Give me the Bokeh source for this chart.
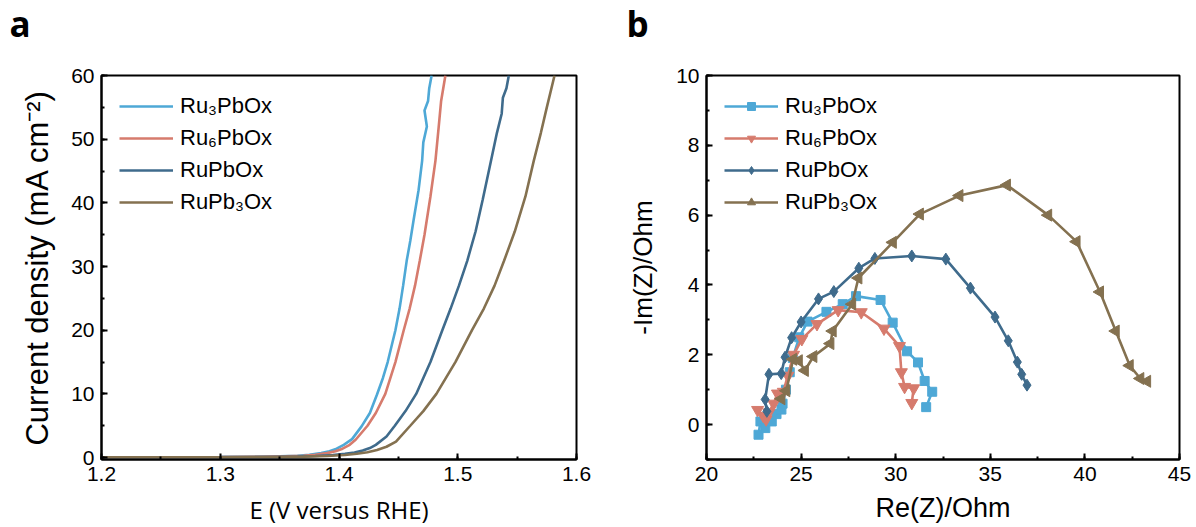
import numpy as np
from bokeh.plotting import figure
from bokeh.layouts import row, column
from bokeh.models import Range1d, SingleIntervalTicker, Legend, LegendItem, Label
from bokeh.embed import file_html
from bokeh.resources import INLINE

# ---------------- data ----------------
names = ["Ru₃PbOx", "Ru₆PbOx", "RuPbOx", "RuPb₃Ox"]
colors = ["#4ea8d6", "#d67b6d", "#3f6b8c", "#847150"]
panel_tags = ["a", "b"]

# LSV curves (E in V vs RHE, J in mA cm-2)
E_ru3 = [1.200, 1.250, 1.300, 1.330, 1.350, 1.365, 1.375, 1.385, 1.392, 1.398, 1.404, 1.411,
         1.419, 1.426, 1.432, 1.437, 1.441, 1.4475, 1.451, 1.454, 1.457, 1.460, 1.463, 1.467,
         1.470, 1.471, 1.474, 1.472, 1.475, 1.476, 1.478]
J_ru3 = [0.05, 0.06, 0.08, 0.12, 0.2, 0.3, 0.45, 0.7, 1.0, 1.4, 2.0, 2.9,
         4.9, 7.0, 9.9, 12.5, 15.0, 20.0, 23.4, 27.0, 30.9, 34.0, 37.5, 42.0,
         46.6, 49.5, 52.0, 54.5, 56.0, 58.0, 60.0]

E_ru6 = [1.200, 1.250, 1.300, 1.335, 1.355, 1.370, 1.380, 1.390, 1.397, 1.403, 1.409, 1.414,
         1.424, 1.431, 1.439, 1.4475, 1.4545, 1.4595, 1.464, 1.468, 1.472, 1.477, 1.4812,
         1.484, 1.486, 1.4896]
J_ru6 = [0.05, 0.06, 0.08, 0.12, 0.2, 0.3, 0.45, 0.7, 1.0, 1.4, 2.0, 2.8,
         5.0, 7.0, 10.0, 15.0, 20.0, 23.4, 27.0, 30.9, 35.0, 41.0, 46.6,
         52.0, 56.0, 60.0]

E_ru1 = [1.200, 1.250, 1.300, 1.340, 1.365, 1.380, 1.395, 1.405, 1.413, 1.420, 1.426, 1.431,
         1.440, 1.447, 1.456, 1.465, 1.477, 1.487, 1.494, 1.501, 1.508, 1.515, 1.521,
         1.528, 1.533, 1.537, 1.538, 1.541, 1.543]
J_ru1 = [0.05, 0.05, 0.07, 0.1, 0.15, 0.25, 0.4, 0.6, 0.8, 1.1, 1.5, 2.0,
         3.3, 5.0, 7.3, 10.0, 15.0, 20.0, 23.4, 27.0, 30.9, 35.5, 40.5,
         46.6, 51.0, 54.0, 56.5, 58.0, 60.0]

E_pb3 = [1.200, 1.250, 1.300, 1.345, 1.370, 1.390, 1.405, 1.415, 1.424, 1.432, 1.440, 1.448,
         1.460, 1.471, 1.482, 1.498, 1.512, 1.517, 1.522, 1.531, 1.539, 1.548, 1.557,
         1.564, 1.570, 1.575, 1.5815]
J_pb3 = [0.05, 0.05, 0.06, 0.1, 0.15, 0.25, 0.4, 0.6, 0.85, 1.2, 1.7, 2.5,
         5.0, 7.3, 10.0, 15.0, 20.0, 21.7, 23.4, 27.0, 30.9, 35.5, 41.0,
         46.6, 51.0, 55.0, 60.0]

# Nyquist data (Re(Z), -Im(Z) in Ohm)
Zr_ru3 = [22.75, 22.85, 23.11, 23.45, 23.70, 23.96, 24.02, 24.20, 24.40, 24.56, 24.90,
          25.34, 26.34, 27.20, 27.90, 29.20, 29.84, 30.60, 31.18, 31.53, 31.93, 31.61]
Zi_ru3 = [-0.29, 0.09, -0.10, 0.09, 0.30, 0.43, 0.60, 1.00, 1.50, 1.91, 2.50,
          2.95, 3.23, 3.45, 3.68, 3.57, 2.92, 2.10, 1.78, 1.25, 0.94, 0.50]

Zr_ru6 = [22.70, 23.00, 23.15, 23.30, 23.55, 23.75, 24.06, 24.30, 24.60, 25.04, 25.84,
          26.96, 28.18, 29.38, 30.20, 30.30, 30.47, 30.95, 30.85]
Zi_ru6 = [0.42, 0.25, 0.15, 0.35, 0.60, 0.89, 0.94, 1.40, 2.00, 2.45, 2.88,
          3.28, 3.22, 2.75, 2.25, 1.50, 1.08, 1.04, 0.62]

Zr_ru1 = [23.19, 23.10, 23.30, 23.95, 24.15, 24.50, 25.00, 25.92, 26.73, 28.05, 28.90,
          30.85, 32.65, 33.95, 35.25, 35.95, 36.43, 36.66, 36.94]
Zi_ru1 = [0.38, 0.72, 1.44, 1.46, 1.93, 2.49, 2.94, 3.60, 3.81, 4.48, 4.76,
          4.83, 4.74, 3.91, 3.08, 2.40, 1.79, 1.44, 1.13]

Zr_pb3 = [23.96, 24.22, 24.58, 24.88, 25.20, 25.65, 26.55, 26.67, 27.70, 28.03, 29.85,
          31.28, 33.37, 35.88, 38.06, 39.56, 40.80, 41.63, 42.37, 42.93, 43.29]
Zi_pb3 = [0.74, 0.97, 1.87, 1.83, 1.55, 1.95, 2.32, 2.68, 3.45, 4.20, 5.22,
          6.03, 6.56, 6.86, 6.00, 5.24, 3.80, 2.68, 1.69, 1.32, 1.24]

lsv_E = [E_ru3, E_ru6, E_ru1, E_pb3]
lsv_J = [J_ru3, J_ru6, J_ru1, J_pb3]
eis_re = [Zr_ru3, Zr_ru6, Zr_ru1, Zr_pb3]
eis_im = [Zi_ru3, Zi_ru6, Zi_ru1, Zi_pb3]
markers = ["square", "inverted_triangle", "diamond", "triangle"]
marker_angles = [0.0, 0.0, 0.0, np.pi / 2]
marker_sizes = [9, 12, 12, 12]

TICK_FONT = "Liberation Sans"
STRIP_H = 60


def style(p, xint, yint):
    p.xaxis.ticker = SingleIntervalTicker(interval=xint, num_minor_ticks=2)
    p.yaxis.ticker = SingleIntervalTicker(interval=yint, num_minor_ticks=2)
    for ax in (p.xaxis[0], p.yaxis[0]):
        ax.axis_line_width = 2
        ax.axis_line_color = "black"
        ax.major_tick_in = 6
        ax.major_tick_out = 0
        ax.minor_tick_in = 3
        ax.minor_tick_out = 0
        ax.major_tick_line_width = 2
        ax.minor_tick_line_width = 2
        ax.major_tick_line_color = "black"
        ax.minor_tick_line_color = "black"
        ax.major_label_text_font = TICK_FONT
        ax.major_label_text_font_size = "21px"
        ax.major_label_text_color = "black"
        ax.axis_label_text_font_style = "normal"
        ax.axis_label_text_color = "black"
    p.xaxis.major_label_standoff = 7
    p.yaxis.major_label_standoff = 7
    p.xgrid.visible = False
    p.ygrid.visible = False
    p.outline_line_color = "black"
    p.outline_line_width = 2
    p.outline_line_alpha = 1.0
    p.background_fill_color = "white"
    p.border_fill_color = "white"


def make_legend(p, items):
    leg = Legend(items=items, location="top_left")
    leg.border_line_alpha = 0
    leg.background_fill_alpha = 0
    leg.label_text_font = TICK_FONT
    leg.label_text_font_size = "22px"
    leg.label_text_color = "black"
    leg.glyph_width = 54
    leg.glyph_height = 20
    leg.label_standoff = 7
    leg.spacing = 6
    leg.padding = 0
    leg.margin = 18
    p.add_layout(leg)


# ---------------- strip with panel tags ----------------
strip = figure(width=1196, height=STRIP_H, title=None,
               x_range=Range1d(0, 1196), y_range=Range1d(0, STRIP_H),
               x_axis_type=None, y_axis_type=None, min_border=0, output_backend="svg",
               toolbar_location=None)
strip.xgrid.visible = False
strip.ygrid.visible = False
strip.outline_line_color = None
for tx, t in zip([9, 626], panel_tags):
    strip.add_layout(Label(x=tx, y=STRIP_H - 23, text=t, text_font="Open Sans",
                           text_font_style="bold", text_font_size="35px",
                           text_color="black", text_baseline="middle"))

# ---------------- panel a ----------------
p1 = figure(frame_width=475, frame_height=384, min_border_left=101, min_border_right=34,
            min_border_top=75 - STRIP_H, min_border_bottom=68, output_backend="svg",
            toolbar_location=None, title=None,
            x_range=Range1d(1.2, 1.6), y_range=Range1d(-0.3, 60))
style(p1, 0.1, 10)
p1.xaxis.axis_label = "E (V versus RHE)"
p1.xaxis.axis_label_text_font = "Open Sans"
p1.xaxis.axis_label_text_font_size = "24px"
p1.xaxis.axis_label_standoff = 9
p1.yaxis.axis_label = "Current density (mA cm⁻²)"
p1.yaxis.axis_label_text_font = TICK_FONT
p1.yaxis.axis_label_text_font_size = "31px"
p1.yaxis.axis_label_standoff = 13

items1 = []
for i in range(4):
    r = p1.line(lsv_E[i], lsv_J[i], line_color=colors[i], line_width=2.6)
    items1.append(LegendItem(label=names[i], renderers=[r]))
make_legend(p1, items1)

# ---------------- panel b ----------------
p2 = figure(frame_width=473, frame_height=384, min_border_left=96, min_border_right=17,
            min_border_top=75 - STRIP_H, min_border_bottom=68, output_backend="svg",
            toolbar_location=None, title=None,
            x_range=Range1d(20, 45), y_range=Range1d(-1, 10))
style(p2, 5, 2)
p2.xaxis.axis_label = "Re(Z)/Ohm"
p2.xaxis.axis_label_text_font = TICK_FONT
p2.xaxis.axis_label_text_font_size = "27px"
p2.xaxis.axis_label_standoff = 9
p2.yaxis.axis_label = "-Im(Z)/Ohm"
p2.yaxis.axis_label_text_font = TICK_FONT
p2.yaxis.axis_label_text_font_size = "26px"
p2.yaxis.axis_label_standoff = 15

items2 = []
for i in range(4):
    rl = p2.line(eis_re[i], eis_im[i], line_color=colors[i], line_width=2.6)
    rs = p2.scatter(eis_re[i], eis_im[i], marker=markers[i], size=marker_sizes[i],
                    angle=marker_angles[i], fill_color=colors[i], line_color=colors[i])
    items2.append(LegendItem(label=names[i], renderers=[rl, rs]))
make_legend(p2, items2)

layout = column(strip, row(p1, p2), spacing=0)
open("out.html", "w").write(file_html(layout, INLINE))
